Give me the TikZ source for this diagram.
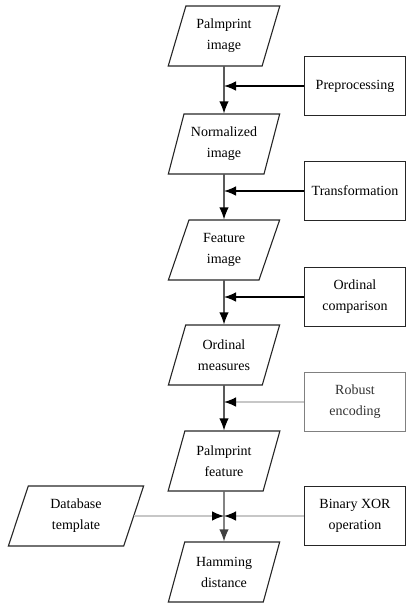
\documentclass[tikz,border=0pt]{standalone}
\usepackage{fontspec}
\setmainfont{Liberation Serif}
\usetikzlibrary{shapes.geometric,arrows.meta}
\begin{document}
\begin{tikzpicture}[
    x=1pt, y=1pt,
    font=\fontsize{14}{21}\selectfont,
    >={Latex[length=12pt,width=9.5pt]},
    data/.style={draw=black!85, line width=1.1pt, trapezium, trapezium left angle=70,
      trapezium right angle=110, trapezium stretches=true, minimum width=112pt,
      minimum height=60pt, align=center, inner sep=2pt},
    proc/.style={draw=black!85, line width=1.1pt, minimum width=101pt, minimum height=59pt,
      align=center, inner sep=2pt},
    flow/.style={->, line width=1.3pt},
    faint/.style={-{Latex[length=12pt,width=9.5pt,color=black]}, line width=1.3pt, draw=black!22}
  ]
    \useasboundingbox (0,0) rectangle (406,-605);

    % main chain
    \node[data] (img)  at (224,-36)  {Palmprint\\image};
    \node[data] (norm) at (224,-144) {Normalized\\image};
    \node[data] (feat) at (224,-250) {Feature\\image};
    \node[data] (ordm) at (224,-355) {Ordinal\\measures};
    \node[data] (pfeat) at (224,-461) {Palmprint\\feature};
    \node[data] (ham)  at (224,-572) {Hamming\\distance};

    % operations
    \node[proc] (pre)   at (355,-86)  {Preprocessing};
    \node[proc] (trans) at (355,-191) {Transformation};
    \node[proc] (ordc)  at (355,-297) {Ordinal\\comparison};
    \node[proc, draw=black!50, text=black!80] (rob) at (355,-402) {Robust\\encoding};
    \node[proc] (xor)   at (355,-516) {Binary XOR\\operation};
    \node[data, minimum width=136pt, trapezium left angle=73, trapezium right angle=107]
      (db) at (76,-516) {Database\\template};

    \draw[flow] (img.south) -- (norm.north);
    \draw[flow] (norm.south) -- (feat.north);
    \draw[flow] (feat.south) -- (ordm.north);
    \draw[flow] (ordm.south) -- (pfeat.north);
    \draw[flow, draw=black!75] (pfeat.south) -- (ham.north);

    \draw[flow] (pre.west) -- (pre.west -| img.south);
    \draw[flow] (trans.west) -- (trans.west -| norm.south);
    \draw[flow] (ordc.west) -- (ordc.west -| feat.south);
    \draw[faint] (rob.west) -- (rob.west -| ordm.south);
    \draw[faint] (xor.west) -- (xor.west -| pfeat.south);
    \draw[faint] (db.east) -- (db.east -| pfeat.south);
  \end{tikzpicture}
\end{document}
